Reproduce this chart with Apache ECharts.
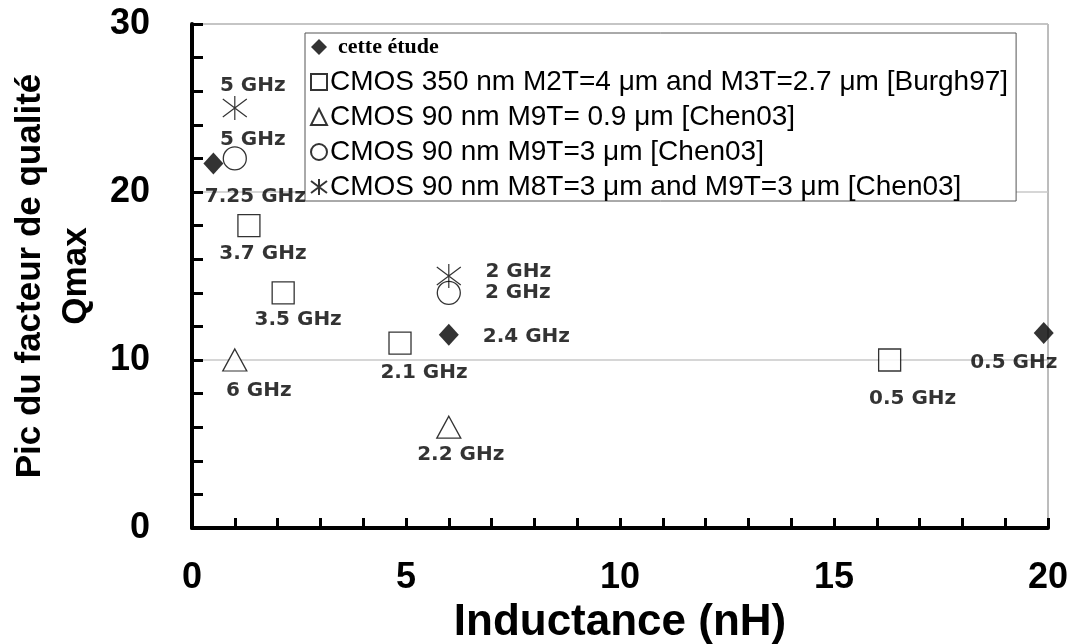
<!DOCTYPE html>
<html>
<head>
<meta charset="utf-8">
<script src="https://cdn.jsdelivr.net/npm/echarts@6/dist/echarts.min.js"></script>
<style>
html,body{margin:0;padding:0;background:#fff;}
#chart{width:1071px;height:644px;}
</style>
</head>
<body>
<div id="chart"></div>
<script>
// ---- data ----
const seriesNames = [
  'cette étude',
  'CMOS 350 nm M2T=4 μm and M3T=2.7 μm [Burgh97]',
  'CMOS 90 nm M9T= 0.9 μm [Chen03]',
  'CMOS 90 nm M9T=3 μm [Chen03]',
  'CMOS 90 nm M8T=3 μm and M9T=3 μm [Chen03]'
];
const thisWorkL = [0.5, 6, 19.9];
const thisWorkQ = [21.7, 11.5, 11.6];
const thisWorkF = ['7.25 GHz', '2.4 GHz', '0.5 GHz'];

const burghL = [1.33, 2.13, 4.86, 16.3];
const burghQ = [18, 14, 11, 10];
const burghF = ['3.7 GHz', '3.5 GHz', '2.1 GHz', '0.5 GHz'];

const chenThinL = [1, 6];
const chenThinQ = [10, 6];
const chenThinF = ['6 GHz', '2.2 GHz'];

const chenThickL = [1, 6];
const chenThickQ = [22, 14];
const chenThickF = ['5 GHz', '2 GHz'];

const chenStackL = [1, 6];
const chenStackQ = [25, 15];
const chenStackF = ['5 GHz', '2 GHz'];

const xTicks = [0, 5, 10, 15, 20];
const yTicks = [0, 10, 20, 30];

// ---- label placement (layout, not data) ----
const thisWorkPos = [['bottom', [42, 7]], ['right', [19, 2]], ['bottom', [-30, 4]]];
const burghPos = [['bottom', [14, 2]], ['bottom', [15, 0]], ['bottom', [24, 3]], ['bottom', [23, 12]]];
const chenThinPos = [['bottom', [24, 4]], ['bottom', [12, 1]]];
const chenThickPos = [['top', [18, 9]], ['right', [19, 0]]];
const chenStackPos = [['top', [18, 5]], ['right', [19, -4]]];

const sans = "'Liberation Sans', Arial, sans-serif";
const labelFont = "'DejaVu Sans', Verdana, sans-serif";

function build(L, Q, F, P) {
  return L.map((x, i) => ({
    value: [x, Q[i]],
    label: { position: P[i][0], offset: P[i][1], formatter: F[i] }
  }));
}

const baseLabel = {
  show: true,
  color: '#000',
  fontFamily: labelFont,
  fontWeight: 'bold',
  fontSize: 20,
  distance: 5
};
const hollow = { color: '#fff', borderColor: '#000', borderWidth: 1.3 };
const asterisk = 'path://M0,3L24,21M24,3L0,21M12,0L12,24';

const chart = echarts.init(document.getElementById('chart'), null, { renderer: 'canvas' });
chart.setOption({
  animation: false,
  backgroundColor: '#fff',
  grid: {
    left: 192, right: 23, top: 24, bottom: 116,
    outerBoundsMode: 'none',
    containLabel: false,
    show: true, borderColor: '#7a7a7a', borderWidth: 1, backgroundColor: 'transparent'
  },
  legend: {
    orient: 'vertical',
    left: 305, top: 33,
    backgroundColor: '#fff',
    borderColor: '#555',
    borderWidth: 1,
    borderRadius: 0,
    padding: [0, 8, 0, 5],
    itemGap: 7,
    itemWidth: 16,
    itemHeight: 16,
    textStyle: { color: '#000', fontFamily: sans, fontSize: 28, lineHeight: 28, padding: [0, 0, 0, -2] },
    data: [
      { name: seriesNames[0], textStyle: { fontFamily: "'Liberation Serif', 'Times New Roman', serif", fontWeight: 'bold', fontSize: 22, lineHeight: 28, padding: [0, 0, 0, 6] } },
      { name: seriesNames[1] },
      { name: seriesNames[2] },
      { name: seriesNames[3] },
      { name: seriesNames[4] }
    ]
  },
  xAxis: {
    type: 'value',
    min: 0, max: 20, interval: 5,
    name: 'Inductance (nH)',
    nameLocation: 'middle',
    nameGap: 52,
    nameTextStyle: { color: '#000', fontFamily: sans, fontWeight: 'bold', fontSize: 44 },
    axisLine: { show: true, onZero: false, lineStyle: { color: '#000', width: 4 } },
    axisTick: { show: true, inside: true, length: 10, lineStyle: { color: '#000', width: 3 } },
    minorTick: { show: true, splitNumber: 5, length: 10, lineStyle: { color: '#000', width: 3 } },
    splitLine: { show: false },
    axisLabel: {
      margin: 32, color: '#000', fontFamily: sans, fontWeight: 'bold', fontSize: 36,
      formatter: v => (xTicks.indexOf(v) >= 0 ? String(v) : '')
    }
  },
  yAxis: {
    type: 'value',
    min: 0, max: 30, interval: 10,
    name: 'Pic du facteur de qualité\nQmax',
    nameLocation: 'middle',
    nameGap: 92,
    nameRotate: 90,
    nameTextStyle: { color: '#000', fontFamily: sans, fontWeight: 'bold', fontSize: 35, lineHeight: 46, align: 'center' },
    axisLine: { show: true, onZero: false, lineStyle: { color: '#000', width: 4 } },
    axisTick: { show: true, inside: true, length: 11, lineStyle: { color: '#000', width: 3 } },
    minorTick: { show: true, splitNumber: 5, length: 11, lineStyle: { color: '#000', width: 3 } },
    splitLine: { show: true, lineStyle: { color: '#c8c8c8', width: 1.5 } },
    axisLabel: {
      margin: 42, color: '#000', fontFamily: sans, fontWeight: 'bold', fontSize: 36,
      formatter: v => (yTicks.indexOf(v) >= 0 ? String(v) : '')
    }
  },
  series: [
    {
      name: seriesNames[0], type: 'scatter', symbol: 'diamond', symbolSize: [20, 22],
      itemStyle: { color: '#000' }, label: baseLabel, z: 5,
      data: build(thisWorkL, thisWorkQ, thisWorkF, thisWorkPos)
    },
    {
      name: seriesNames[1], type: 'scatter', symbol: 'rect', symbolSize: 22,
      itemStyle: hollow, label: baseLabel,
      data: build(burghL, burghQ, burghF, burghPos)
    },
    {
      name: seriesNames[2], type: 'scatter', symbol: 'triangle', symbolSize: [24, 22],
      itemStyle: hollow, label: baseLabel,
      data: build(chenThinL, chenThinQ, chenThinF, chenThinPos)
    },
    {
      name: seriesNames[3], type: 'scatter', symbol: 'circle', symbolSize: 23,
      itemStyle: hollow, label: baseLabel,
      data: build(chenThickL, chenThickQ, chenThickF, chenThickPos)
    },
    {
      name: seriesNames[4], type: 'scatter', symbol: asterisk, symbolSize: 24,
      itemStyle: { color: 'rgba(0,0,0,0)', borderColor: '#000', borderWidth: 1.2 }, label: baseLabel,
      data: build(chenStackL, chenStackQ, chenStackF, chenStackPos)
    }
  ]
});
</script>
</body>
</html>
